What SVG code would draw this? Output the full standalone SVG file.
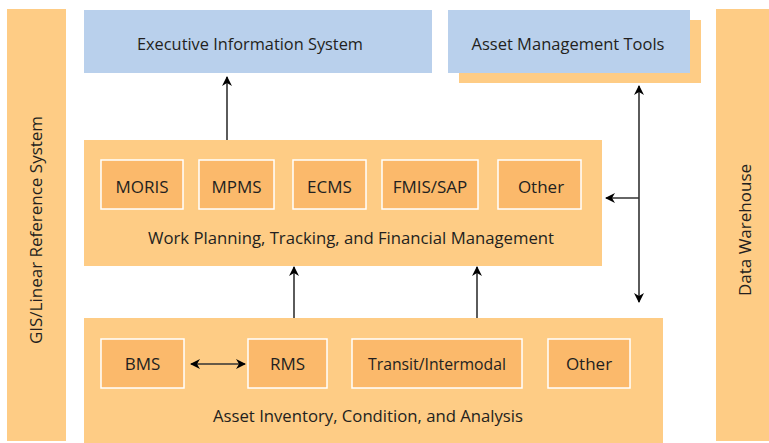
<svg xmlns="http://www.w3.org/2000/svg" width="769" height="443" viewBox="0 0 769 443">
<defs>
<style>
.bar{fill:#FECC85}
.blue{fill:#B9D0EC}
.inner{fill:#FBB96B;stroke:#FFFFFF;stroke-width:1.5}
text{font-family:"Open Sans","Noto Sans",sans-serif;font-size:17px;fill:#231F20;text-anchor:middle}
.c{stroke:#333333;stroke-width:1.6;fill:none}
</style>
<marker id="ah" viewBox="0 0 10 10" refX="9" refY="5" markerWidth="10" markerHeight="10" orient="auto-start-reverse" markerUnits="userSpaceOnUse">
<path d="M0,0 L10,5 L0,10 L3,5 Z" fill="#000"/>
</marker>
</defs>
<rect width="769" height="443" fill="#fff"/>
<g id="gis"><rect class="bar" x="7" y="9" width="59" height="432"/>
<text transform="translate(42,230) rotate(-90)">GIS/Linear Reference System</text></g>
<g id="dw"><rect class="bar" x="716" y="9" width="53" height="432"/>
<text transform="translate(751,230) rotate(-90)">Data Warehouse</text></g>
<g id="eis"><rect class="blue" x="84" y="10" width="348" height="63"/>
<text x="250" y="50" textLength="226" lengthAdjust="spacingAndGlyphs">Executive Information System</text></g>
<g id="amt"><rect class="bar" x="459" y="20" width="242" height="63"/>
<rect class="blue" x="448" y="10" width="242" height="63"/>
<text x="568" y="50" textLength="193" lengthAdjust="spacingAndGlyphs">Asset Management Tools</text></g>
<g id="work"><rect class="bar" x="84" y="140" width="518" height="126"/>
<text x="351" y="244" textLength="406" lengthAdjust="spacingAndGlyphs">Work Planning, Tracking, and Financial Management</text></g>
<g id="moris"><rect class="inner" x="101" y="160" width="82" height="49"/><text x="142" y="193">MORIS</text></g>
<g id="mpms"><rect class="inner" x="199" y="160" width="75" height="49"/><text x="236.5" y="193">MPMS</text></g>
<g id="ecms"><rect class="inner" x="293" y="160" width="73" height="49"/><text x="329.5" y="193">ECMS</text></g>
<g id="fmis"><rect class="inner" x="382" y="160" width="96" height="49"/><text x="430" y="193">FMIS/SAP</text></g>
<g id="other1"><rect class="inner" x="498" y="160" width="83" height="49"/><text x="541" y="193">Other</text></g>
<g id="asset"><rect class="bar" x="84" y="318" width="579" height="125"/>
<text x="368" y="422" textLength="310" lengthAdjust="spacingAndGlyphs">Asset Inventory, Condition, and Analysis</text></g>
<g id="bms"><rect class="inner" x="101" y="339" width="83" height="49"/><text x="142.5" y="370">BMS</text></g>
<g id="rms"><rect class="inner" x="248" y="339" width="79" height="49"/><text x="287.5" y="370">RMS</text></g>
<g id="transit"><rect class="inner" x="352" y="339" width="170" height="49"/><text x="437" y="370" textLength="138" lengthAdjust="spacingAndGlyphs">Transit/Intermodal</text></g>
<g id="other2"><rect class="inner" x="548" y="339" width="82" height="49"/><text x="589" y="370">Other</text></g>
<g id="connectors">
<line class="c" x1="227" y1="140" x2="227" y2="77" marker-end="url(#ah)"/>
<line class="c" x1="294" y1="318" x2="294" y2="267" marker-end="url(#ah)"/>
<line class="c" x1="477" y1="318" x2="477" y2="267" marker-end="url(#ah)"/>
<line class="c" x1="639" y1="86" x2="639" y2="302" marker-start="url(#ah)" marker-end="url(#ah)"/>
<line class="c" x1="639" y1="198" x2="606" y2="198" marker-end="url(#ah)"/>
<line class="c" x1="191" y1="364" x2="245" y2="364" marker-start="url(#ah)" marker-end="url(#ah)"/>
</g>
</svg>
